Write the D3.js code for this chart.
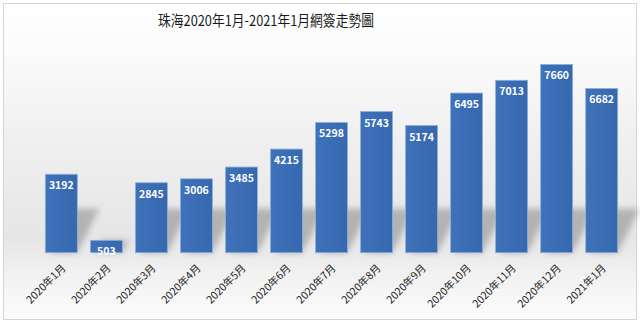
<!DOCTYPE html>
<html><head><meta charset="utf-8">
<script src="https://cdn.jsdelivr.net/npm/d3@7/dist/d3.min.js"></script>
<style>html,body{margin:0;padding:0;background:#fff;}svg{display:block;}</style>
</head><body>
<svg id="c" width="640" height="323"></svg>
<script>
const title = "珠海2020年1月-2021年1月網簽走勢圖";
const categories = ["2020年1月","2020年2月","2020年3月","2020年4月","2020年5月","2020年6月","2020年7月","2020年8月","2020年9月","2020年10月","2020年11月","2020年12月","2021年1月"];
const values = [3192,503,2845,3006,3485,4215,5298,5743,5174,6495,7013,7660,6682];

const svg = d3.select("#c");
const font = "'Noto Sans CJK SC','Noto Sans CJK TC',sans-serif";

const defs = svg.append("defs");
const bg = defs.append("linearGradient").attr("id","bg").attr("x1",0).attr("y1",0).attr("x2",0).attr("y2",1);
[[0,"#ffffff"],[0.15,"#fbfbfb"],[0.45,"#efefef"],[0.75,"#e6e6e6"],[0.85,"#f1f1f1"],[1,"#fcfcfc"]].forEach(s=>bg.append("stop").attr("offset",s[0]).attr("stop-color",s[1]));
const bar = defs.append("linearGradient").attr("id","bar").attr("x1",0).attr("y1",0).attr("x2",1).attr("y2",0);
[[0,"#3f72b9"],[0.5,"#3a6db5"],[1,"#3568ae"]].forEach(s=>bar.append("stop").attr("offset",s[0]).attr("stop-color",s[1]));
defs.append("filter").attr("id","blur").attr("x","-50%").attr("y","-50%").attr("width","200%").attr("height","200%")
  .append("feGaussianBlur").attr("stdDeviation",3);

svg.append("rect").attr("x",3.5).attr("y",3.5).attr("width",633).attr("height",316)
  .attr("fill","url(#bg)").attr("stroke","#d4d4d4").attr("stroke-width",1);

svg.append("text").attr("x",158).attr("y",25.5).attr("text-anchor","start")
  .attr("textLength",216).attr("lengthAdjust","spacingAndGlyphs")
  .attr("font-family",font).attr("font-size",14.5).attr("fill","#1a1a1a").text(title);

const x = d3.scaleBand().domain(categories).range([38.8,624.2]).paddingInner(0.29).paddingOuter(0.145);
const y = d3.scaleLinear().domain([0,7660]).range([252.7,64.4]);

// shadows
const sh = svg.append("g").attr("filter","url(#blur)");
sh.selectAll("path").data(categories).join("path")
  .attr("d",(c,i)=>{
    const x0 = x(c), x1 = x(c)+x.bandwidth(), yb = y(0);
    const h = Math.min(y(0)-y(values[i]), 44);
    const dx = h*0.5;
    return `M${x0+4},${yb} L${x1},${yb} L${x1+dx},${yb-h} L${x0+4+dx},${yb-h} Z`;
  })
  .attr("fill","#8f8f8f").attr("opacity",0.6);

svg.append("g").selectAll("rect").data(categories).join("rect")
  .attr("x",c=>x(c)).attr("width",x.bandwidth())
  .attr("y",(c,i)=>y(values[i])).attr("height",(c,i)=>y(0)-y(values[i]))
  .attr("fill","url(#bar)").attr("stroke","#8fb0dc").attr("stroke-width",0.8);

svg.append("g").selectAll("text").data(categories).join("text")
  .attr("x",c=>x(c)+x.bandwidth()/2).attr("y",(c,i)=>y(values[i])+15)
  .attr("text-anchor","middle").attr("font-family",font).attr("font-weight","bold")
  .attr("font-size",10.5).attr("fill","#ffffff").text((c,i)=>values[i]);

const xAxis = svg.append("g").attr("transform",`translate(0,${y(0)})`)
  .call(d3.axisBottom(x).tickSize(0).tickPadding(0));
xAxis.select(".domain").remove();
xAxis.selectAll("text").attr("font-family",font).attr("font-size",10.5).attr("fill","#222")
  .attr("text-anchor","end").attr("dy",0)
  .attr("transform","translate(5,16) rotate(-45)");
</script>
</body></html>
